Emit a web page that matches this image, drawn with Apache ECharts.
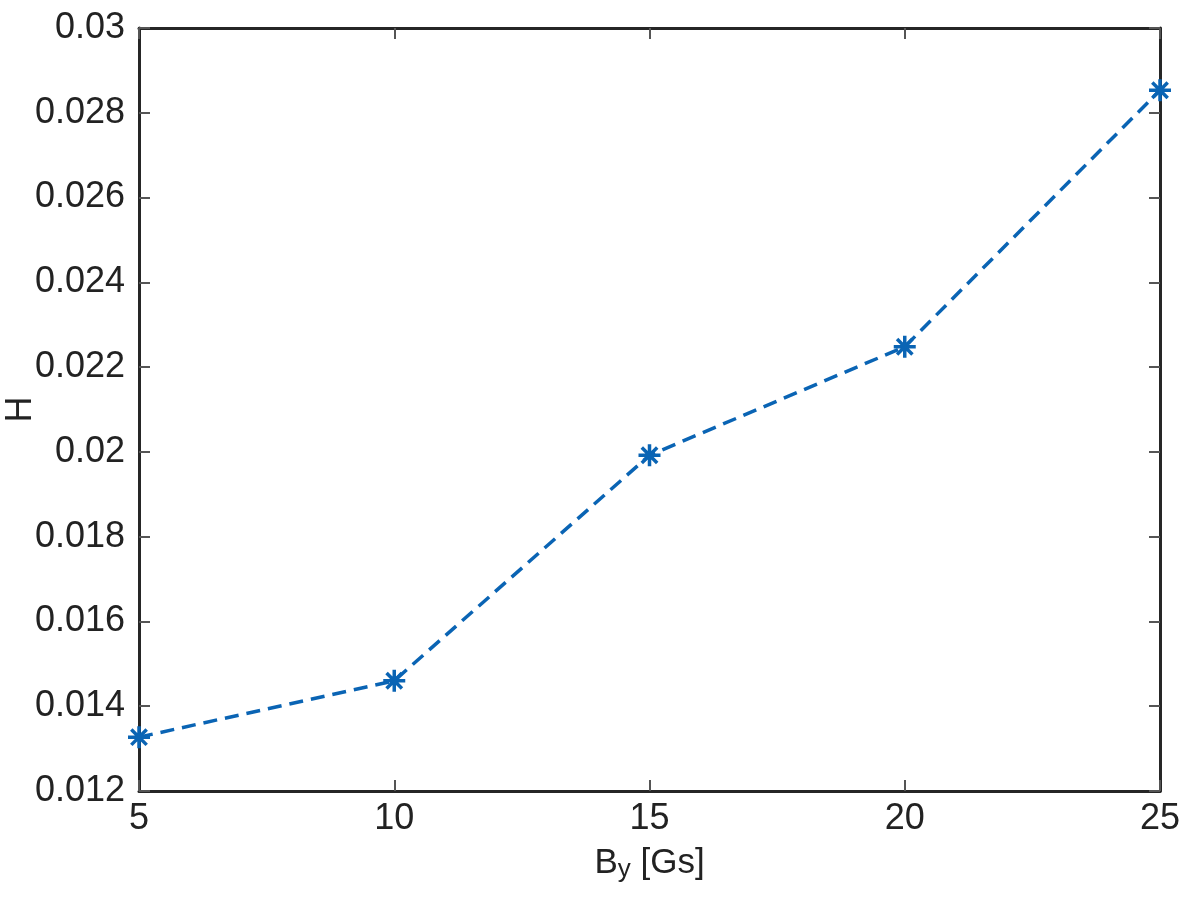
<!DOCTYPE html>
<html>
<head>
<meta charset="utf-8">
<script src="https://cdn.jsdelivr.net/npm/echarts@6/dist/echarts.min.js"></script>
<style>html,body{margin:0;padding:0;background:#fff;}#c{width:1200px;height:900px;}</style>
</head>
<body>
<div id="c"></div>
<script>
const xValues = [5, 10, 15, 20, 25];
const hValues = [0.01327, 0.0146, 0.01992, 0.02248, 0.02853];
const yTicks = [0.012, 0.014, 0.016, 0.018, 0.02, 0.022, 0.024, 0.026, 0.028, 0.03];

const lineColor = '#0a64b4';
const frameColor = '#262626';
const font = 'Liberation Sans, Arial, sans-serif';

const chart = echarts.init(document.getElementById('c'), null, {renderer: 'canvas'});
const asterisk = 'path://M0,10L20,10M10,0L10,20M3,3L17,17M17,3L3,17';

const axisCommon = {
  axisLine: {show: true, onZero: false, lineStyle: {color: frameColor, width: 3}},
  axisTick: {show: true, inside: true, length: 11, lineStyle: {color: '#555', width: 2}},
  splitLine: {show: false}
};

chart.setOption({
  animation: false,
  backgroundColor: '#fff',
  grid: {left: 139, right: 40, top: 28, bottom: 109, containLabel: false, outerBoundsMode: 'none'},
  xAxis: [
    Object.assign({
      type: 'value', min: 5, max: 25, interval: 5, position: 'bottom',
      name: '{b|B}{s|y}{b| [Gs]}', nameLocation: 'middle', nameGap: 52, nameMoveOverlap: false,
      nameTextStyle: {rich: {
        b: {fontFamily: font, fontSize: 35, color: '#222'},
        s: {fontFamily: font, fontSize: 26, color: '#222', verticalAlign: 'bottom', padding: [14, 0, 0, 0]}
      }},
      axisLabel: {fontFamily: font, fontSize: 36, color: '#222', margin: 10}
    }, axisCommon),
    Object.assign({
      type: 'value', min: 5, max: 25, interval: 5, position: 'top',
      axisLabel: {show: false}
    }, axisCommon)
  ],
  yAxis: [
    Object.assign({
      type: 'value', min: 0.012, max: 0.03, interval: 0.002, position: 'left',
      name: 'H', nameLocation: 'middle', nameGap: 100, nameRotate: 90, nameMoveOverlap: false,
      nameTextStyle: {fontFamily: font, fontSize: 36, color: '#222'},
      axisLabel: {fontFamily: font, fontSize: 36, color: '#222', margin: 14,
        formatter: v => yTicks.find(t => Math.abs(t - v) < 1e-9) !== undefined ? String(+v.toFixed(3)) : ''}
    }, axisCommon),
    Object.assign({
      type: 'value', min: 0.012, max: 0.03, interval: 0.002, position: 'right',
      axisLabel: {show: false}
    }, axisCommon)
  ],
  series: [{
    type: 'line',
    data: xValues.map((x, i) => [x, hValues[i]]),
    xAxisIndex: 0, yAxisIndex: 0,
    lineStyle: {color: lineColor, width: 3.5, type: [14, 8]},
    symbol: asterisk, symbolSize: 22,
    itemStyle: {color: lineColor, borderColor: lineColor, borderWidth: 3.5},
    clip: false
  }]
});
</script>
</body>
</html>
